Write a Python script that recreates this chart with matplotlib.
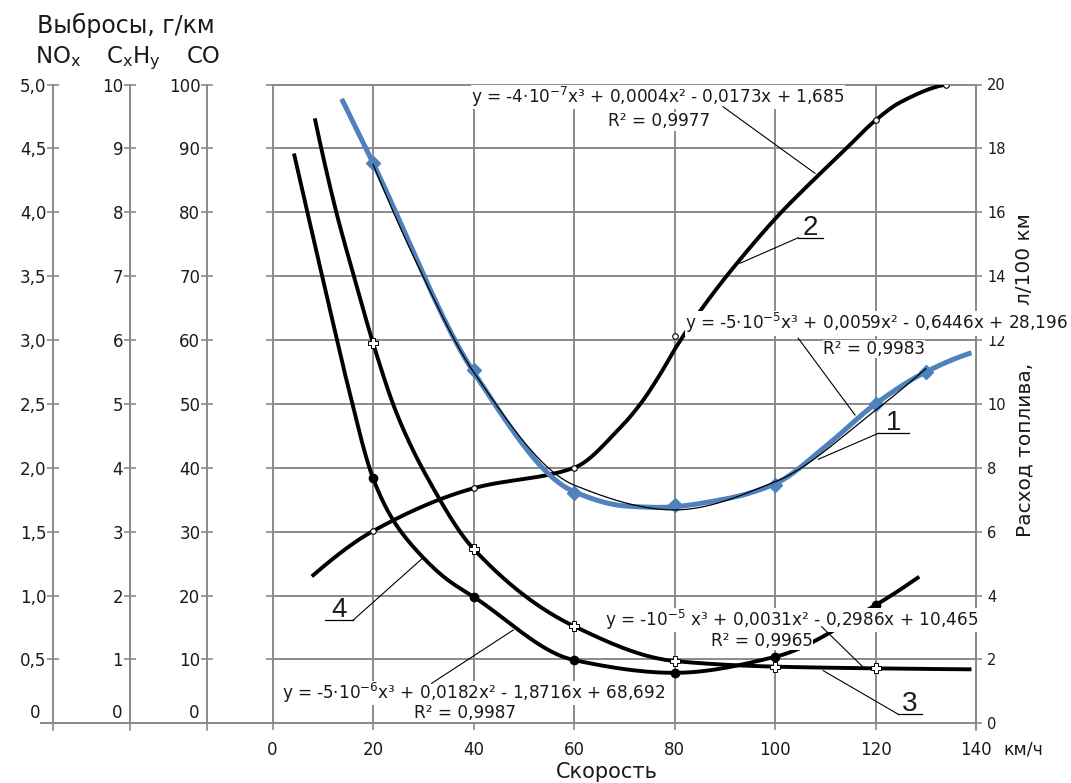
import numpy as np
import matplotlib
matplotlib.use('Agg')
import matplotlib.pyplot as plt
from matplotlib.lines import Line2D

# ---------------- data ----------------
speed_ticks = [0, 20, 40, 60, 80, 100, 120, 140]

# 1 - fuel consumption, l/100 km (right axis)
x1 = [13.75, 20, 40, 60, 70.5, 77, 90, 100, 110, 120, 130, 139.1]
y1 = [19.55, 17.54, 11.0, 7.25, 6.8, 6.76, 7.02, 7.5, 8.66, 10.0, 11.0, 11.6]
x1m = [20, 40, 60, 80, 100, 120, 130]
y1m = [17.54, 11.06, 7.2, 6.84, 7.46, 10.0, 11.0]
# thin trend line under curve 1
xt1 = [20, 29.3, 40, 60, 80, 100, 120, 130]
yt1 = [17.5, 14.2, 11.0, 7.46, 6.68, 7.56, 9.8, 11.1]

# 2 - NOx, g/km
x2 = [7.8, 20, 40, 60, 69.1, 73.4, 77.1, 80.4, 85.7, 92.4, 101, 105, 114.2, 120, 124.9, 134.1]
y2 = [1.15, 1.505, 1.84, 2.0, 2.31, 2.51, 2.73, 2.95, 3.26, 3.60, 3.99, 4.15, 4.5, 4.72, 4.86, 5.0]
x2m = [20, 40, 60, 80, 120, 134.1]
y2m = [1.505, 1.84, 2.0, 3.03, 4.72, 5.0]

# 3 - CxHy, g/km
x3 = [8.4, 12.75, 16.4, 20, 24.7, 30.7, 40, 60, 80, 100, 120, 139.1]
y3 = [9.47, 7.98, 6.94, 5.95, 4.85, 3.86, 2.73, 1.52, 0.975, 0.887, 0.86, 0.845]
x3m = [20, 40, 60, 80, 100, 120]
y3m = [5.95, 2.73, 1.52, 0.975, 0.887, 0.86]

# 4 - CO, g/km
x4 = [4.25, 11.4, 14.75, 20, 24, 29.3, 34.6, 40, 60, 80, 100, 120, 128.7]
y4 = [89.2, 64.8, 53.6, 38.35, 31.8, 26.5, 22.6, 19.8, 9.9, 7.9, 10.4, 18.5, 22.95]
x4m = [20, 40, 60, 80, 100, 120]
y4m = [38.35, 19.8, 9.9, 7.9, 10.4, 18.5]

nox_ticks = [0, 0.5, 1.0, 1.5, 2.0, 2.5, 3.0, 3.5, 4.0, 4.5, 5.0]
chy_ticks = list(range(0, 11))
co_ticks = list(range(0, 101, 10))
fuel_ticks = list(range(0, 21, 2))

eq1 = ['y = -4·10$^{-7}$x³ + 0,0004x² - 0,0173x + 1,685', 'R² = 0,9977']
eq2 = ['y = -5·10$^{-5}$x³ + 0,0059x² - 0,6446x + 28,196', 'R² = 0,9983']
eq3 = ['y = -10$^{-5}$ x³ + 0,0031x² - 0,2986x + 10,465', 'R² = 0,9965']
eq4 = ['y = -5·10$^{-6}$x³ + 0,0182x² - 1,8716x + 68,692', 'R² = 0,9987']


def smooth(x, y, n=500):
    """Shape-preserving (PCHIP) rendering of a line through the points."""
    x = np.asarray(x, float); y = np.asarray(y, float)
    k = len(x); h = np.diff(x); dl = np.diff(y) / h
    d = np.zeros(k)
    for i in range(1, k - 1):
        if dl[i - 1] * dl[i] > 0:
            w1 = 2 * h[i] + h[i - 1]; w2 = h[i] + 2 * h[i - 1]
            d[i] = (w1 + w2) / (w1 / dl[i - 1] + w2 / dl[i])

    def endslope(h0, h1, d0, d1):
        s = ((2 * h0 + h1) * d0 - h0 * d1) / (h0 + h1)
        if np.sign(s) != np.sign(d0):
            s = 0.0
        elif np.sign(d0) != np.sign(d1) and abs(s) > abs(3 * d0):
            s = 3 * d0
        return s
    d[0] = endslope(h[0], h[1], dl[0], dl[1])
    d[-1] = endslope(h[-1], h[-2], dl[-1], dl[-2])
    xs = np.linspace(x[0], x[-1], n)
    idx = np.clip(np.searchsorted(x, xs) - 1, 0, k - 2)
    t = (xs - x[idx]) / h[idx]
    h00 = 2 * t**3 - 3 * t**2 + 1; h10 = t**3 - 2 * t**2 + t
    h01 = -2 * t**3 + 3 * t**2; h11 = t**3 - t**2
    ys = h00 * y[idx] + h10 * h[idx] * d[idx] + h01 * y[idx + 1] + h11 * h[idx] * d[idx + 1]
    return xs, ys


W, H = 1071, 783
GRAY = '#8a8a8a'
TXT = '#1a1a1a'
BLUE = '#4f81bd'
plt.rcParams['font.family'] = ['DejaVu Sans']
plt.rcParams['mathtext.fontset'] = 'dejavusans'

fig = plt.figure(figsize=(W / 100, H / 100), dpi=100)
X0, X1, Y0, Y1 = 272.6, 976.0, 723.3, 84.5


def P(px, py):
    return (px / W, 1 - py / H)


ax = fig.add_axes([X0 / W, 1 - Y0 / H, (X1 - X0) / W, (Y0 - Y1) / H])
ax.set_xlim(0, 140)
ax.set_ylim(0, 100)
ax.set_xticks(speed_ticks)
ax.set_xticklabels([str(v) for v in speed_ticks], fontsize=12, color=TXT)
ax.set_yticks(co_ticks)
ax.grid(True, color=GRAY, lw=1.4)
ax.set_axisbelow(True)
for s in ax.spines.values():
    s.set_color(GRAY); s.set_linewidth(1.4)
ax.tick_params(axis='x', length=5, width=1.2, color=GRAY, pad=8)
ax.tick_params(axis='y', left=True, right=False, length=5, width=1.2, color=GRAY,
               labelleft=False, labelright=False)


def left_axis(lim, ticks, labels, offset_px):
    a = ax.twinx()
    a.set_ylim(*lim)
    a.yaxis.tick_left()
    a.yaxis.set_label_position('left')
    for k in ('top', 'bottom', 'right'):
        a.spines[k].set_visible(False)
    a.spines['left'].set_visible(True)
    a.spines['left'].set_position(('outward', offset_px * 0.72))
    a.spines['left'].set_color(GRAY)
    a.spines['left'].set_linewidth(1.4)
    a.set_yticks(ticks)
    a.set_yticklabels(labels, fontsize=12, color=TXT)
    a.tick_params(axis='y', direction='inout', length=8, width=1.2, color=GRAY, pad=1)
    return a


fmt = lambda v: f'{v:.1f}'.replace('.', ',')
axN = left_axis((0, 5), nox_ticks, ['' if v == 0 else fmt(v) for v in nox_ticks], X0 - 53.3)
axC = left_axis((0, 10), chy_ticks, ['' if v == 0 else str(v) for v in chy_ticks], X0 - 130.0)
axO = left_axis((0, 100), co_ticks, ['' if v == 0 else str(v) for v in co_ticks], X0 - 207.3)

axF = ax.twinx()
axF.set_ylim(0, 20)
for k in ('top', 'bottom', 'left'):
    axF.spines[k].set_visible(False)
axF.spines['right'].set_color(GRAY)
axF.spines['right'].set_linewidth(1.4)
axF.set_yticks(fuel_ticks)
axF.set_yticklabels([str(v) for v in fuel_ticks], fontsize=10.5, color=TXT)
axF.tick_params(axis='y', length=4, width=1.2, color=GRAY, pad=4)

# ---- curves ----
# 4 CO
xs, ys = smooth(x4, y4)
axO.plot(xs, ys, color='black', lw=2.8, solid_capstyle='butt', zorder=3)
axO.plot(x4m, y4m, ls='none', marker='o', ms=6, color='black', zorder=4)
# 3 CxHy
xs, ys = smooth(x3, y3)
axC.plot(xs, ys, color='black', lw=2.8, solid_capstyle='butt', zorder=3)
axC.plot(x3m, y3m, ls='none', marker='P', ms=6.5, mfc='white', mec='black', mew=0.7, zorder=4)
# 2 NOx
xs, ys = smooth(x2, y2)
axN.plot(xs, ys, color='black', lw=2.8, solid_capstyle='butt', zorder=3)
axN.plot(x2m, y2m, ls='none', marker='o', ms=4, mfc='white', mec='black', mew=0.8, zorder=4)
# 1 fuel
xs, ys = smooth(x1, y1)
axF.plot(xs, ys, color=BLUE, lw=3.6, solid_capstyle='butt', zorder=3)
axF.plot(x1m, y1m, ls='none', marker='D', ms=7.5, color=BLUE, zorder=4)
xs, ys = smooth(xt1, yt1)
axF.plot(xs, ys, color='black', lw=0.9, zorder=5)

# ---- extra frame pieces (pixel positions of the reference) ----
def fline(pts, **kw):
    xs_ = [P(*p)[0] for p in pts]; ys_ = [P(*p)[1] for p in pts]
    fig.add_artist(Line2D(xs_, ys_, transform=fig.transFigure, **kw))

fline([(41, Y0), (X0, Y0)], color=GRAY, lw=1.4)
for px in (53.3, 130.0, 207.3, X1):
    fline([(px, Y0), (px, Y0 + 7)], color=GRAY, lw=1.2)

# zero labels of the left axes (raised a little)
for px in (40, 122.7, 199):
    fig.text(*P(px, 712.5), '0', ha='right', va='center', fontsize=12, color=TXT)

# titles
fig.text(*P(126, 33), 'Выбросы, г/км', ha='center', va='baseline', fontsize=17, color=TXT)
fig.text(*P(58, 63), r'NO$_\mathregular{x}$', ha='center', va='baseline', fontsize=16.5, color=TXT)
fig.text(*P(133.5, 63), r'C$_\mathregular{x}$H$_\mathregular{y}$', ha='center', va='baseline',
         fontsize=16.5, color=TXT)
fig.text(*P(204, 63), 'CO', ha='center', va='baseline', fontsize=16.5, color=TXT)
fig.text(*P(607, 772), 'Скорость', ha='center', va='center', fontsize=15, color=TXT)
fig.text(*P(1003, 749), 'км/ч', ha='left', va='center', fontsize=12.5, color=TXT)
fig.text(*P(1025, 450), 'Расход топлива,', rotation=90, ha='center', va='center',
         fontsize=14.5, color=TXT)
fig.text(*P(1025, 259), 'л/100 км', rotation=90, ha='center', va='center',
         fontsize=14.5, color=TXT)

# equations
box = dict(facecolor='white', edgecolor='none', pad=0.3)
def eqtext(lines, c1, c2):
    fig.text(*P(*c1), lines[0], ha='center', va='baseline', fontsize=12.2, color=TXT,
             bbox=box, zorder=6)
    fig.text(*P(*c2), lines[1], ha='center', va='baseline', fontsize=12.2, color=TXT,
             bbox=box, zorder=6)

eqtext(eq1, (658, 103), (659, 126.5))
eqtext(eq2, (877, 329.5), (874, 354))
eqtext(eq3, (792, 626), (762, 646))
eqtext(eq4, (474, 699), (465, 718))

# leader lines
for a_, b_ in [((723, 106.7), (815, 173.3)), ((798.3, 338.3), (855, 415)),
               ((821.7, 626.7), (863.3, 667.3)), ((431.7, 683.3), (513.3, 630))]:
    fline([a_, b_], color='black', lw=0.8, zorder=7)

# numbered labels
labels = [('1', 878.3, 909.3, 433.3, (818.3, 459.3), 878.3),
          ('2', 798.3, 823.3, 237.7, (740, 263.3), 798.3),
          ('3', 898.3, 921.7, 714.3, (823.3, 670.7), 898.3),
          ('4', 325, 353.3, 620, (421.7, 559), 353.3)]
for t, xa, xb, yu, tip, xs_ in labels:
    fig.text(*P((xa + xb) / 2, yu - 3), t, ha='center', va='baseline', fontsize=20,
             family='Liberation Sans', color=TXT, zorder=7)
    fline([(xa, yu), (xb, yu)], color='black', lw=0.9, zorder=7)
    fline([(xs_, yu), tip], color='black', lw=0.8, zorder=7)

fig.savefig('out.png', dpi=100)
